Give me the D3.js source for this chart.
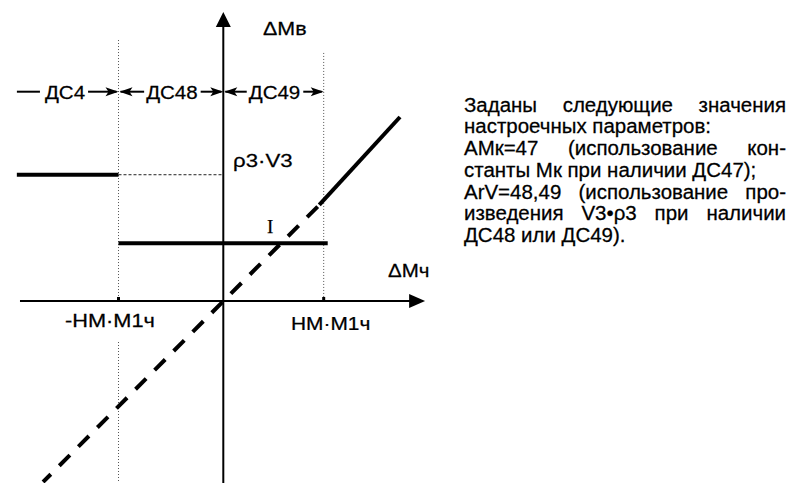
<!DOCTYPE html>
<html><head><meta charset="utf-8">
<script src="https://cdn.jsdelivr.net/npm/d3@7"></script>
<style>body{margin:0;background:#fff}svg{display:block}text{font-family:"Liberation Sans",Arial,sans-serif;fill:#000;stroke:#000;stroke-width:0.25px}</style>
</head><body><svg id="c" width="798" height="483"></svg>
<script>
// ---- data (units: НМ·М1ч = 1 on x) ----
const xBounds = [-1, 0, 1];                 // zone boundaries
const zoneLabels = ["ДС4", "ДС48", "ДС49"];
const zoneEdges = [-1.96, -1, 0, 1];
const upperLevel = 1.232;                   // Mк (ДС4)
const middleLevel = 0.563;                  // ρ3·V3 (ДС48, ДС49)
const upperRange = [-1.97, -1];
const middleRange = [-1, 1.04];
const diagDashed = [[-1.72, -1.766], [0.956, 0.937]];
const diagSolid = [[0.956, 0.937], [1.76, 1.795]];
const axisX = [-1.94, 2.01];
const axisY = [-1.78, 2.82];
const tickLabels = ["-НМ·М1ч", "НМ·М1ч"];
const noteLines = [
  ["Заданы следующие значения", true],
  ["настроечных параметров:", false],
  ["АМк=47 (использование кон-", true],
  ["станты Мк при наличии ДС47);", false],
  ["ArV=48,49 (использование про-", true],
  ["изведения V3•ρ3 при наличии", true],
  ["ДС48 или ДС49).", false]
];

const svg = d3.select("#c");
const x = d3.scaleLinear().domain([-1, 0, 1]).range([118.5, 223.3, 323.7]);
const y = d3.scaleLinear().domain([0, 1]).range([301, 198.5]);
const line = d3.line().x(d => x(d[0])).y(d => y(d[1]));

function txt(px, py, s, size, sx, anchor) {
  return svg.append("text").attr("transform", `translate(${px},${py}) scale(${sx},1)`)
    .attr("font-size", size).attr("text-anchor", anchor || "start").text(s);
}

// dotted verticals
const dot = (pts) => svg.append("path").attr("d", line(pts)).attr("stroke", "#555").attr("stroke-width", 1).attr("stroke-dasharray", "1,2").attr("fill", "none");
dot([[-1, 2.546], [-1, 0]]);
dot([[-1, -0.40], [-1, -1.8]]);
dot([[1, 2.42], [1, 0]]);
// thin dashed level continuation
svg.append("path").attr("d", line([[-1, upperLevel], [0, upperLevel]])).attr("stroke", "#222").attr("stroke-width", 1).attr("stroke-dasharray", "3,2").attr("fill", "none");

// axes
svg.append("path").attr("d", line([[axisX[0], 0], [axisX[1] - 0.14, 0]])).attr("stroke", "#000").attr("stroke-width", 2);
svg.append("path").attr("d", line([[0, axisY[0]], [0, axisY[1] - 0.14]])).attr("stroke", "#000").attr("stroke-width", 2);
const xt = x(axisX[1]), yt = y(axisY[1]);
svg.append("path").attr("d", `M${xt},${y(0)}L${xt-16},${y(0)-7}L${xt-16},${y(0)+7}Z`).attr("fill", "#000");
svg.append("path").attr("d", `M${x(0)},${yt}L${x(0)-7.5},${yt+15}L${x(0)+7.5},${yt+15}Z`).attr("fill", "#000");
xBounds.filter(v => v !== 0).forEach(v => svg.append("rect").attr("x", x(v) - 1.5).attr("y", y(0) - 4).attr("width", 3).attr("height", 4).attr("fill", "#000"));

// thick levels
svg.append("path").attr("d", line([[upperRange[0], upperLevel], [upperRange[1], upperLevel]])).attr("stroke", "#000").attr("stroke-width", 4);
svg.append("path").attr("d", line([[middleRange[0], middleLevel], [middleRange[1], middleLevel]])).attr("stroke", "#000").attr("stroke-width", 4);
// diagonal
svg.append("path").attr("d", line(diagDashed)).attr("stroke", "#000").attr("stroke-width", 4).attr("stroke-dasharray", "15,12").attr("stroke-dashoffset", 4).attr("fill", "none");
svg.append("path").attr("d", line(diagSolid)).attr("stroke", "#000").attr("stroke-width", 4).attr("fill", "none");

// zone arrows
const ay = 91.7, zsx = 1.08;
function arrowHead(tip, dir) {
  svg.append("path").attr("d", `M${tip},${ay}L${tip - dir*13},${ay-4.5}L${tip - dir*10},${ay}L${tip - dir*13},${ay+4.5}Z`).attr("fill", "#000");
}
function hline(a, b) { svg.append("line").attr("x1", a).attr("x2", b).attr("y1", ay).attr("y2", ay).attr("stroke", "#000").attr("stroke-width", 2); }
zoneLabels.forEach((lab, i) => {
  const a = x(zoneEdges[i]), b = x(zoneEdges[i + 1]);
  const cx = i === 0 ? 65 : (a + b) / 2 + 1;
  const t = txt(cx, ay + 7.5, lab, 19, zsx, "middle");
  const w = t.node().getComputedTextLength() * zsx;
  if (i === 0) { hline(a - 1, cx - w / 2 - 5); }
  else { hline(a + 2, cx - w / 2 - 2); arrowHead(a + 1, -1); }
  hline(cx + w / 2 + 3, b - 2); arrowHead(b, 1);
});

// labels
txt(263, 35, "ΔMв", 19, 1.13);
txt(233, 166.5, "ρ3·V3", 19, 1.17);
svg.append("text").attr("x", 267).attr("y", 233).attr("font-size", 19).attr("style", "font-family:'Liberation Serif',serif").text("I");
txt(388, 277, "ΔMч", 19, 1.08);
txt(65, 327, tickLabels[0], 19, 1.145);
txt(291, 330, tickLabels[1], 19, 1.1);

// note text, justified
const left = 464, right = 786, base0 = 111.7, lh = 21.7, nsx = 1.05, nfs = 19.5;
noteLines.forEach(([s, just], i) => {
  const yy = base0 + i * lh;
  if (!just) { txt(left, yy, s, nfs, nsx); return; }
  const words = s.split(" ");
  const nodes = words.map(w => txt(0, yy, w, nfs, nsx));
  const widths = nodes.map(n => n.node().getComputedTextLength() * nsx);
  const gap = (right - left - d3.sum(widths)) / (words.length - 1);
  let cx = left;
  nodes.forEach((n, k) => { n.attr("transform", `translate(${cx},${yy}) scale(${nsx},1)`); cx += widths[k] + gap; });
});
</script></body></html>
